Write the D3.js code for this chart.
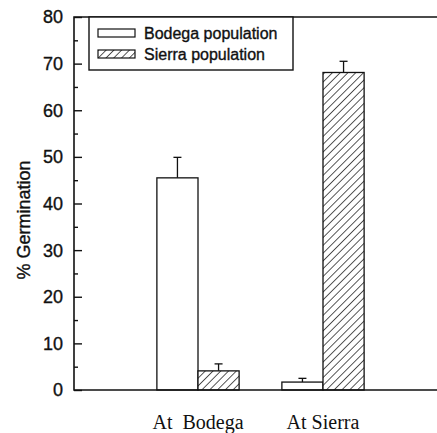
<!DOCTYPE html>
<html lang="en">
<head>
<meta charset="utf-8">
<title>Germination</title>
<script src="https://cdn.jsdelivr.net/npm/d3@7/dist/d3.min.js"></script>
<style>
  body { margin: 0; background: #fff; }
  svg { display: block; }
  .sans { font-family: "Liberation Sans", Arial, sans-serif; fill: #111; stroke: #111; stroke-width: 0.35px; }
</style>
</head>
<body>
<script>
// data
var sites = ["At  Bodega", "At Sierra"];
var populations = ["Bodega population", "Sierra population"];
var bodegaMeans = [45.5, 1.7];
var bodegaErrs = [4.4, 0.8];
var sierraMeans = [4.1, 68.1];
var sierraErrs = [1.5, 2.4];
var yTicks = [0, 10, 20, 30, 40, 50, 60, 70, 80];

var W = 437, H = 433;
var pLeft = 74, pRight = 437, pTop = 17, pBottom = 390;

var svg = d3.select("body").append("svg")
    .attr("width", W).attr("height", H);

// hatch pattern for the Sierra bars
var pat = svg.append("defs").append("pattern")
    .attr("id", "hatch")
    .attr("patternUnits", "userSpaceOnUse")
    .attr("width", 5.5).attr("height", 5.5)
    .attr("patternTransform", "rotate(45)");
pat.append("rect").attr("width", 5.5).attr("height", 5.5).attr("fill", "#fff");
pat.append("line")
    .attr("x1", 0).attr("y1", 0).attr("x2", 0).attr("y2", 5.5)
    .attr("stroke", "#111").attr("stroke-width", 1.4);

var y = d3.scaleLinear().domain([0, 80]).range([pBottom, pTop]);

var x0 = d3.scaleBand().domain(sites).range([135.5, 385.5]);
var x1 = d3.scaleBand().domain(populations).range([0, x0.bandwidth()]).paddingOuter(0.52);

var rows = [];
sites.forEach(function(s, i) {
    rows.push({site: s, pop: populations[0], v: bodegaMeans[i], e: bodegaErrs[i]});
    rows.push({site: s, pop: populations[1], v: sierraMeans[i], e: sierraErrs[i]});
});

// error bars (drawn behind bars)
var eb = svg.append("g").attr("stroke", "#111").attr("stroke-width", 1.3);
rows.forEach(function(d) {
    var cx = x0(d.site) + x1(d.pop) + x1.bandwidth() / 2;
    eb.append("line").attr("x1", cx).attr("x2", cx)
        .attr("y1", y(d.v)).attr("y2", y(d.v + d.e));
    eb.append("line").attr("x1", cx - 4).attr("x2", cx + 4)
        .attr("y1", y(d.v + d.e)).attr("y2", y(d.v + d.e));
});

svg.append("g").selectAll("rect")
    .data(rows).enter().append("rect")
    .attr("x", function(d) { return x0(d.site) + x1(d.pop); })
    .attr("y", function(d) { return y(d.v); })
    .attr("width", x1.bandwidth())
    .attr("height", function(d) { return y(0) - y(d.v); })
    .attr("fill", function(d) { return d.pop == populations[0] ? "#fff" : "url(#hatch)"; })
    .attr("stroke", "#111").attr("stroke-width", 1.3);

// left axis with inward ticks
var yAxis = svg.append("g")
    .attr("transform", "translate(" + pLeft + ",0)")
    .call(d3.axisRight(y).tickValues(yTicks).tickSize(8).tickFormat(""));
yAxis.select(".domain").remove();
yAxis.selectAll("line").attr("stroke", "#111").attr("stroke-width", 1.4);

svg.append("g")
    .attr("transform", "translate(" + pLeft + ",0)")
    .call(d3.axisRight(y).tickValues(d3.range(5, 80, 10)).tickSize(4).tickFormat(""))
    .call(function(g) { g.select(".domain").remove(); })
    .selectAll("line").attr("stroke", "#111").attr("stroke-width", 1.4);

svg.append("g").selectAll("text")
    .data(yTicks).enter().append("text")
    .attr("class", "sans")
    .attr("x", 63).attr("y", function(d) { return y(d); })
    .attr("dy", "0.36em")
    .attr("text-anchor", "end")
    .style("font-size", "18px")
    .text(function(d) { return d; });

// frame: left, top, bottom
svg.append("path")
    .attr("d", "M" + pRight + "," + pTop + "H" + pLeft + "V" + pBottom + "H" + pRight)
    .attr("fill", "none").attr("stroke", "#111").attr("stroke-width", 1.6);

// x labels
svg.append("g").selectAll("text")
    .data(sites).enter().append("text")
    .attr("x", function(d) { return x0(d) + x0.bandwidth() / 2; })
    .attr("y", 429)
    .attr("text-anchor", "middle")
    .attr("xml:space", "preserve")
    .style("white-space", "pre")
    .style("font-family", "Liberation Serif, Times New Roman, serif")
    .style("font-size", "20px")
    .style("fill", "#111")
    .text(function(d) { return d; });

// y title
svg.append("text")
    .attr("class", "sans")
    .attr("transform", "translate(30,220) rotate(-90)")
    .attr("text-anchor", "middle")
    .style("font-size", "18px")
    .text("% Germination");

// legend
var lg = svg.append("g");
lg.append("rect")
    .attr("x", 89).attr("y", pTop).attr("width", 204).attr("height", 53)
    .attr("fill", "#fff").attr("stroke", "#111").attr("stroke-width", 1.4);
populations.forEach(function(p, i) {
    var ry = 29 + i * 21;
    lg.append("rect")
        .attr("x", 98).attr("y", ry).attr("width", 37).attr("height", 8)
        .attr("fill", i == 0 ? "#fff" : "url(#hatch)")
        .attr("stroke", "#111").attr("stroke-width", 1.2);
    lg.append("text")
        .attr("class", "sans")
        .attr("x", 144).attr("y", ry + 4).attr("dy", "0.36em")
        .style("font-size", "16px")
        .text(p);
});
</script>
</body>
</html>
